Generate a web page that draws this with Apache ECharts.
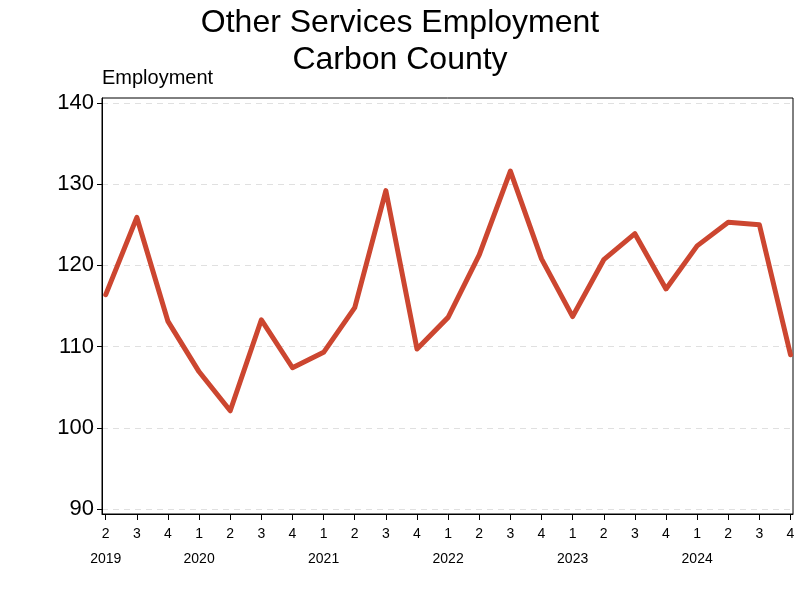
<!DOCTYPE html>
<html>
<head>
<meta charset="utf-8">
<script src="https://cdn.jsdelivr.net/npm/echarts@6/dist/echarts.min.js"></script>
<style>html,body{margin:0;padding:0;background:#fff}#c{width:800px;height:600px}</style>
</head>
<body>
<div id="c"></div>
<script>
const quarters = ['2','3','4','1','2','3','4','1','2','3','4','1','2','3','4','1','2','3','4','1','2','3','4'];
const yearLabels = ['2019','2020','2021','2022','2023','2024'];
const yearPositions = [0, 3, 7, 11, 15, 19];
const employment = [116.4, 125.9, 113.1, 106.9, 102.1, 113.3, 107.4, 109.3, 114.8, 129.2, 109.7, 113.6, 121.3, 131.6, 120.8, 113.7, 120.7, 123.9, 117.1, 122.4, 125.3, 125.0, 109.0];
const yTicks = [90, 100, 110, 120, 130, 140];

const font = 'Liberation Sans, Arial, sans-serif';
const chart = echarts.init(document.getElementById('c'));
const idx = quarters.map((q, i) => i);
chart.setOption({
  animation: false,
  backgroundColor: '#fff',
  title: [
    { text: 'Other Services Employment\nCarbon County', left: 'center', top: 0,
      textStyle: { fontFamily: font, fontSize: 32, fontWeight: 'normal', color: '#000', lineHeight: 37 } },
    { text: 'Employment', left: 102, top: 68, padding: 0,
      textStyle: { fontFamily: font, fontSize: 20, fontWeight: 'normal', color: '#000' } }
  ],
  grid: { left: 102, right: 7, top: 98, bottom: 86, show: true, borderColor: '#000', borderWidth: 1, backgroundColor: 'transparent' },
  xAxis: [
    { type: 'value', min: -0.12, max: 22.08,
      axisLine: { show: true, onZero: false, lineStyle: { color: '#000' } },
      axisTick: { show: true, customValues: idx, length: 6, lineStyle: { color: '#000' } },
      axisLabel: { customValues: idx, formatter: v => quarters[Math.round(v)], fontFamily: font, fontSize: 14, color: '#000', margin: 13 },
      splitLine: { show: false } },
    { type: 'value', min: -0.12, max: 22.08, position: 'bottom', offset: 0,
      axisLine: { show: false, onZero: false }, axisTick: { show: false },
      axisLabel: { customValues: yearPositions, formatter: v => yearLabels[yearPositions.indexOf(Math.round(v))], fontFamily: font, fontSize: 14, color: '#000', margin: 38 },
      splitLine: { show: false } }
  ],
  yAxis: {
    type: 'value', min: 89.4, max: 140.6,
    axisLine: { show: true, onZero: false, lineStyle: { color: '#000' } },
    axisTick: { show: true, customValues: yTicks, length: 5, lineStyle: { color: '#000' } },
    axisLabel: { customValues: yTicks, fontFamily: font, fontSize: 22, color: '#000', margin: 8 },
    splitLine: { show: true, lineStyle: { color: '#e0e0e0', type: [6, 5], width: 1 } }
  },
  series: [{
    type: 'line', xAxisIndex: 0,
    data: employment.map((v, i) => [i, v]),
    symbol: 'none',
    lineStyle: { color: '#CC4630', width: 5, cap: 'round', join: 'round' }
  }]
});
</script>
</body>
</html>
